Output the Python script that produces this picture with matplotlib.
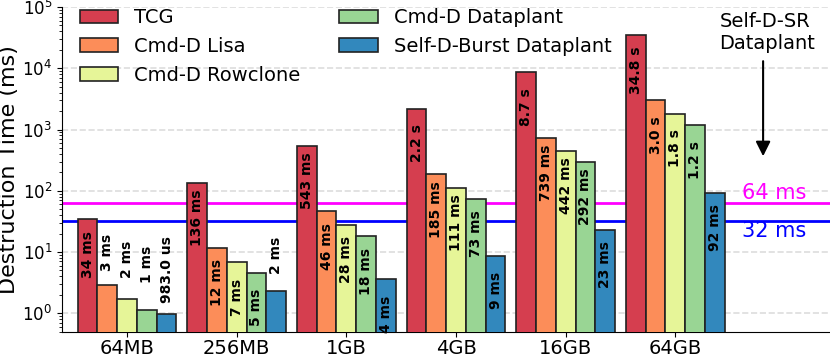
import numpy as np
import matplotlib
matplotlib.use('Agg')
import matplotlib.pyplot as plt

# Data (ms)
sizes = ['64MB', '256MB', '1GB', '4GB', '16GB', '64GB']
series_names = ['TCG', 'Cmd-D Lisa', 'Cmd-D Rowclone', 'Cmd-D Dataplant', 'Self-D-Burst Dataplant']
tcg = [34, 136, 543, 2200, 8700, 34800]
lisa = [2.9, 11.6, 46, 185, 739, 2980]
rowclone = [1.7, 6.8, 28, 111, 442, 1820]
dataplant = [1.15, 4.6, 18, 73, 292, 1180]
burst = [0.983, 2.3, 3.6, 8.6, 23, 92]
refresh_64 = 64
refresh_32 = 32

colors = ['#d53e4f', '#fc8d59', '#e6f598', '#99d594', '#3288bd']


def fmt_label(v):
    if v < 1:
        return f'{v * 1000:.1f} us'
    if v < 1000:
        return f'{round(v)} ms'
    return f'{v / 1000:.1f} s'


fig = plt.figure(figsize=(8.3, 3.57), dpi=100)
ax = fig.add_axes([0.0747, 0.0709, 0.9253, 0.9094])

x = np.arange(len(sizes))
width = 0.18
all_series = [tcg, lisa, rowclone, dataplant, burst]

for i, (name, vals) in enumerate(zip(series_names, all_series)):
    pos = x + (i - 2) * width
    ax.bar(pos, vals, width, color=colors[i], edgecolor='#222222',
           linewidth=1.2, label=name, zorder=3)
    for px, v in zip(pos, vals):
        if v >= 3:
            # label inside the bar
            ax.text(px, v * 0.27, fmt_label(v), rotation=90, ha='center',
                    va='center', fontsize=10, fontweight='bold', zorder=4)
        else:
            # short bars: label above
            y = v * 1.5 if v < 1 else v + 2
            ax.text(px, y, fmt_label(v), rotation=90, ha='center',
                    va='bottom', fontsize=10, fontweight='bold', zorder=4)

# refresh-window lines
ax.axhline(refresh_64, color='magenta', linewidth=2, zorder=2)
ax.axhline(refresh_32, color='blue', linewidth=2, zorder=2)
ax.text(5.9, refresh_64, '64 ms', color='magenta', fontsize=15,
        ha='center', va='bottom')
ax.text(5.9, refresh_32, '32 ms', color='blue', fontsize=15,
        ha='center', va='top')

# Self-D-SR annotation
ax.text(5.84, 18000, 'Self-D-SR\nDataplant', fontsize=14, ha='center',
        va='bottom', multialignment='left')
ax.annotate('', xy=(5.8, 330), xytext=(5.8, 14500),
            arrowprops=dict(arrowstyle='-|>', color='black', lw=1.5,
                            mutation_scale=22))

ax.set_yscale('log')
ax.set_ylim(0.5, 1e5)
ax.set_xlim(-0.593, 6.41)
ax.set_xticks(x)
ax.set_xticklabels(sizes, fontsize=14)
ax.tick_params(axis='x', pad=2)
ax.tick_params(axis='y', labelsize=12)
ax.set_ylabel('Destruction Time (ms)', fontsize=16, labelpad=2)
ax.yaxis.grid(True, which='major', linestyle='--', color='#dddddd',
              linewidth=1.2, zorder=0)
ax.set_axisbelow(True)
ax.spines['top'].set_visible(False)
ax.spines['right'].set_visible(False)

ax.legend(ncol=2, loc='upper left', fontsize=14, frameon=False,
          bbox_to_anchor=(0.0, 1.05), labelspacing=0.5)

plt.savefig('out.png', dpi=100)
